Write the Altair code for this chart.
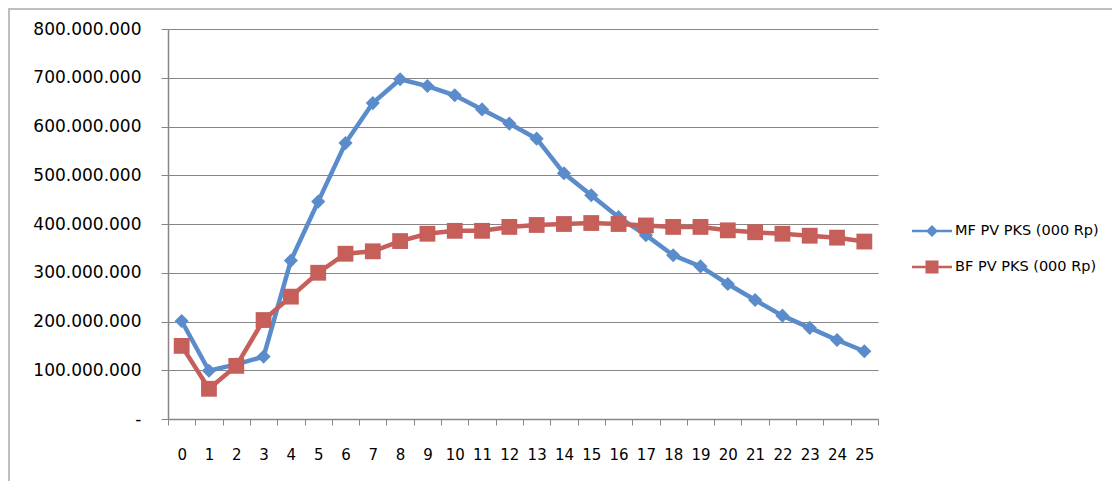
import altair as alt
import pandas as pd

years = list(range(26))
series_names = ["MF PV PKS (000 Rp)", "BF PV PKS (000 Rp)"]
mf_values = [201, 99, 112, 128, 325, 446, 566, 648, 697, 683, 664, 635, 606,
             575, 504, 459, 414, 377, 336, 313, 277, 244, 212, 187, 162, 139]
bf_values = [150, 62, 109, 203, 251, 300, 339, 344, 365, 380, 386, 386, 394,
             398, 400, 402, 400, 397, 394, 394, 387, 383, 380, 376, 372, 364]
series_colors = ["#5A8CCB", "#C65E5A"]
y_ticks = [0, 100e6, 200e6, 300e6, 400e6, 500e6, 600e6, 700e6, 800e6]

rows = []
for name, vals in zip(series_names, [mf_values, bf_values]):
    for yr, v in zip(years, vals):
        rows.append({"year": yr, "value": v * 1e6, "series": name})
df = pd.DataFrame(rows)

FONT = "DejaVu Sans"
GRAY = "#868686"

color_scale = alt.Scale(domain=series_names, range=series_colors)
# legend symbols: a short line with the series marker on it (filled paths)
legend_shapes = [
    "M-2,-0.12H2V0.12H-2ZM0,-0.6L0.6,0L0,0.6L-0.6,0Z",
    "M-2,-0.12H2V0.12H-2ZM-0.65,-0.65H0.65V0.65H-0.65Z",
]
shape_scale = alt.Scale(domain=series_names, range=legend_shapes)

legend = alt.Legend(
    title=None,
    orient="none",
    legendX=754,
    legendY=192,
    padding=0,
    symbolSize=400,
    symbolOpacity=1,
    symbolStrokeWidth=0,
    labelOffset=13,
    rowPadding=19,
    labelFont=FONT,
    labelFontSize=14.5,
    labelColor="#000000",
)

x_enc = alt.X(
    "year:O",
    bandPosition=0.5,
    scale=alt.Scale(type="band", paddingInner=0, paddingOuter=0),
    axis=alt.Axis(
        title=None,
        tickBand="extent",
        labelAngle=0,
        labelFont=FONT,
        labelFontSize=15,
        labelColor="#000000",
        labelPadding=22,
        tickSize=6,
        tickColor=GRAY,
        domainColor=GRAY,
        domainWidth=1.5,
        grid=False,
    ),
)
y_enc = alt.Y(
    "value:Q",
    scale=alt.Scale(domain=[0, 800e6], nice=False),
    axis=alt.Axis(
        title=None,
        values=y_ticks,
        labelExpr="datum.value == 0 ? '-' : replace(format(datum.value, ','), regexp(',', 'g'), '.')",
        labelFont=FONT,
        labelFontSize=17,
        labelColor="#000000",
        labelPadding=20,
        tickSize=7,
        tickColor=GRAY,
        domainColor=GRAY,
        domainWidth=1.5,
        grid=True,
        gridColor=GRAY,
        gridWidth=1.2,
    ),
)

color_enc = alt.Color("series:N", scale=color_scale, legend=legend)
shape_enc = alt.Shape("series:N", scale=shape_scale, legend=legend)

base = alt.Chart(df)
layers = []
for name, shape, size in zip(series_names, ["diamond", "square"], [200, 250]):
    sub = base.transform_filter(alt.datum.series == name)
    line = sub.mark_line(strokeWidth=4.5).encode(x=x_enc, y=y_enc, color=color_enc)
    pts = sub.mark_point(filled=True, shape=shape, size=size, opacity=1).encode(
        x=x_enc, y=y_enc, color=color_enc
    )
    layers += [line, pts]

# legend-only layer (draws no marks)
legend_layer = base.transform_filter("false").mark_point(filled=True, opacity=1).encode(
    x=x_enc, y=y_enc, color=color_enc, shape=shape_enc
)

border = alt.Chart(pd.DataFrame({"a": [0]})).mark_rect(
    fill=None, stroke="#bfbfbf", strokeWidth=2
).encode(
    x=alt.value(-159), x2=alt.value(980), y=alt.value(-20), y2=alt.value(480)
)

chart = alt.layer(border, *layers, legend_layer).properties(
    width=710,
    height=390,
    padding={"left": 160, "top": 21, "right": 234, "bottom": 62},
    autosize=alt.AutoSizeParams(type="none"),
).configure_view(stroke=None)

chart.save("out.html", embed_options={"renderer": "svg", "actions": False})
